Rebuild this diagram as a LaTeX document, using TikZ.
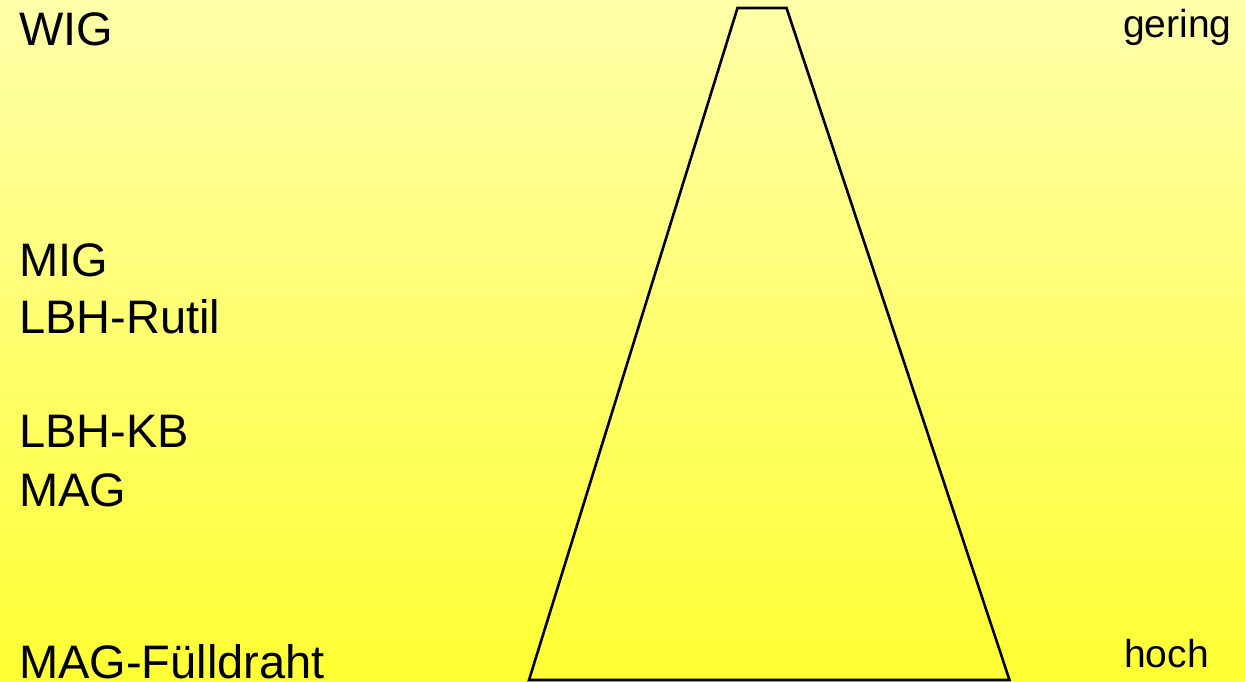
\documentclass[tikz,border=0pt]{standalone}
\usepackage{fontspec}
\setmainfont{Liberation Sans}
\definecolor{bgtop}{RGB}{255,255,170}
\definecolor{bgbot}{RGB}{255,255,51}
\begin{document}
\begin{tikzpicture}[x=1pt,y=-1pt,
  lbl/.style={anchor=base west,inner sep=0pt,font=\fontsize{47}{52}\selectfont},
  rlbl/.style={anchor=base west,inner sep=0pt,font=\fontsize{39}{44}\selectfont},
  trap/.style={draw=black,line width=2.6pt,line join=miter}]
\useasboundingbox (0,0) rectangle (1245,682);
\shade[top color=bgtop,bottom color=bgbot] (0,0) rectangle (1245,682);
\coordinate (tl) at (737.5,8);
\coordinate (tr) at (786.5,8);
\coordinate (br) at (1009.5,680);
\coordinate (bl) at (529,680);
\draw[trap] (tl) -- (tr) -- (br) -- (bl) -- cycle;
\node[lbl] (wig) at (19,46) {WIG};
\node[lbl] (mig) at (19,276) {MIG};
\node[lbl] (rutil) at (19,333) {LBH-Rutil};
\node[lbl] (kb) at (19,447) {LBH-KB};
\node[lbl] (mag) at (19,506) {MAG};
\node[lbl] (fuell) at (19,678) {MAG-Fülldraht};
\node[rlbl] (gering) at (1123,38) {gering};
\node[rlbl] (hoch) at (1124,667) {hoch};
\end{tikzpicture}
\end{document}
